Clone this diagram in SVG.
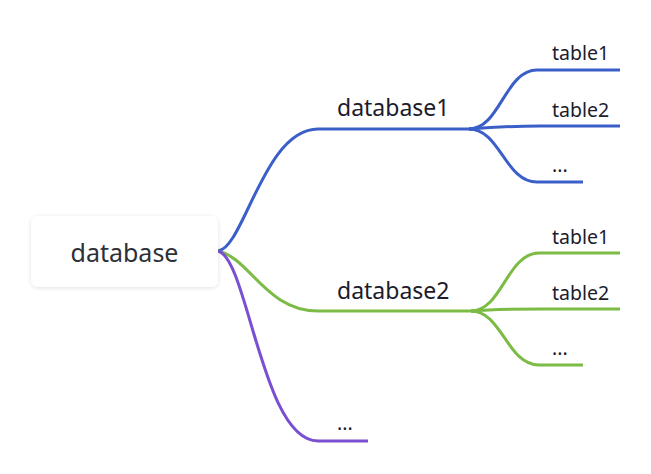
<svg xmlns="http://www.w3.org/2000/svg" width="651" height="474" viewBox="0 0 651 474">
<defs>
<filter id="sh" x="-20%" y="-30%" width="140%" height="160%">
<feDropShadow dx="0" dy="1" stdDeviation="2" flood-color="#000" flood-opacity="0.12"/>
</filter>
<style>
.ln{fill:none;stroke-width:3;stroke-linecap:butt}
.b{stroke:#3b5fc9}
.g{stroke:#7cbb44}
.p{stroke:#7a4fd2}
.t{font-family:"Noto Sans","Open Sans","Liberation Sans",sans-serif;fill:#1c1c2c}
.sub{font-size:23px}
.leaf{font-size:19.5px}
</style>
</defs>
<rect width="651" height="474" fill="#ffffff"/>
<g id="connectors">
<path class="ln b" d="M218,251 C244,248 264,129 318,129 L473,129"/>
<path class="ln g" d="M218,251 C250,258 266,311 318,311 L475,311"/>
<path class="ln p" d="M218,251 C248,258 262,441 318,441 L368,441"/>
<path class="ln b" d="M469,129 C500,129 505,70 537,70 L620,70"/>
<path class="ln b" d="M469,129 C495,127 510,126 540,126 L620,126"/>
<path class="ln b" d="M469,129 C500,129 505,182 537,182 L583,182"/>
<path class="ln g" d="M471,311 C502,311 507,253 539,253 L620,253"/>
<path class="ln g" d="M471,311 C497,309 512,309 542,309 L620,309"/>
<path class="ln g" d="M471,311 C502,311 507,365 539,365 L583,365"/>
</g>
<g id="root">
<rect x="31" y="216" width="187" height="71" rx="7" fill="#ffffff" filter="url(#sh)"/>
<text class="t" x="124.5" y="262" font-size="25" text-anchor="middle" style="fill:#2e3038">database</text>
</g>
<g id="database1"><text class="t sub" x="337" y="116">database1</text></g>
<g id="db1-table1"><text class="t leaf" x="552" y="60">table1</text></g>
<g id="db1-table2"><text class="t leaf" x="552" y="117">table2</text></g>
<g id="db1-more"><text class="t leaf" x="552" y="172">...</text></g>
<g id="database2"><text class="t sub" x="337" y="299">database2</text></g>
<g id="db2-table1"><text class="t leaf" x="552" y="244">table1</text></g>
<g id="db2-table2"><text class="t leaf" x="552" y="300">table2</text></g>
<g id="db2-more"><text class="t leaf" x="552" y="355">...</text></g>
<g id="more"><text class="t leaf" x="337" y="430">...</text></g>
</svg>
